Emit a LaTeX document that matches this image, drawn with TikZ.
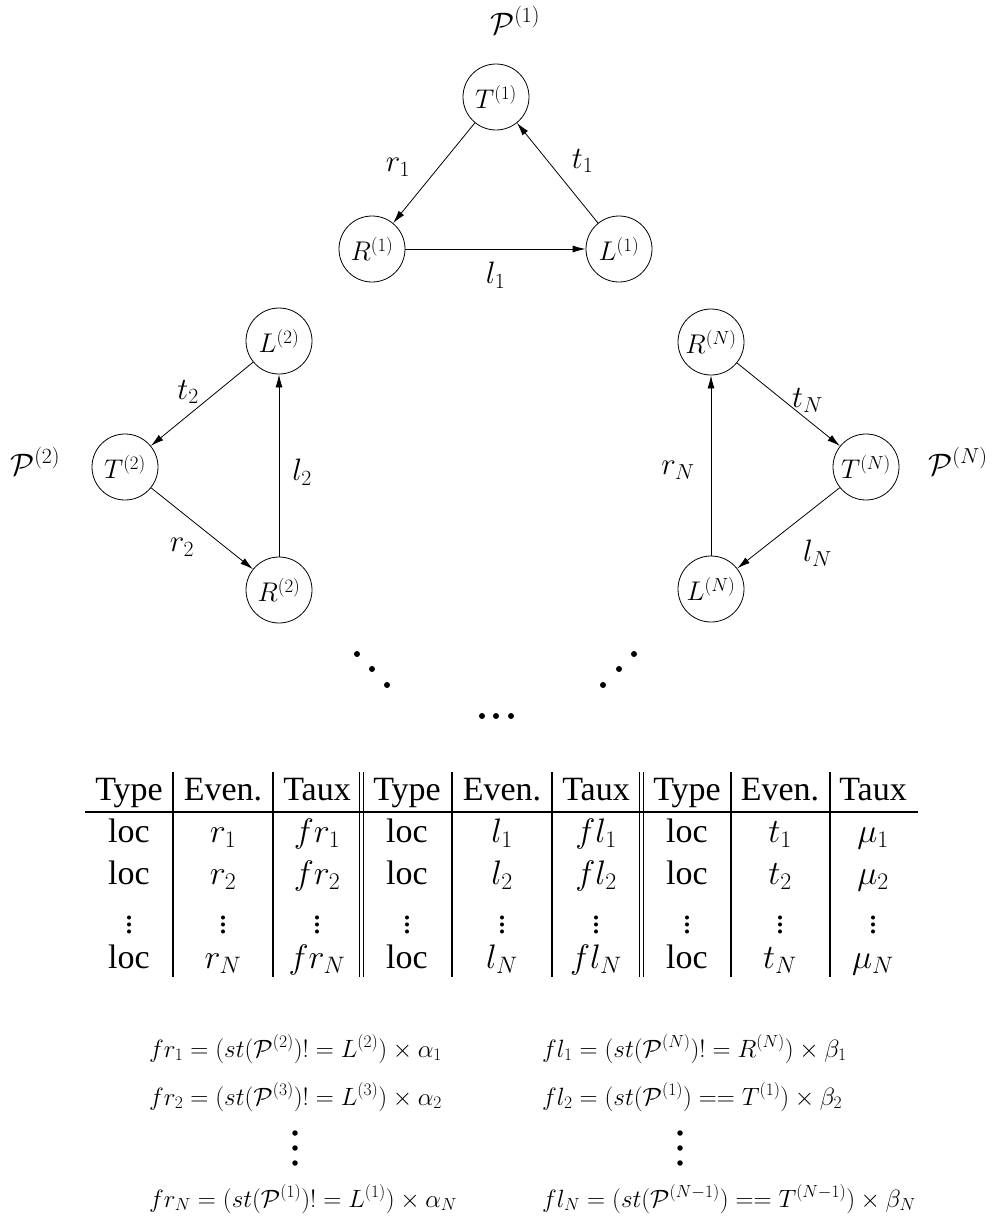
\RequirePackage{fix-cm}
\documentclass[tikz,border=0pt]{standalone}
\usepackage{fontspec}
\newfontfamily\timesf{Liberation Serif}
\usetikzlibrary{arrows.meta}
\newcommand\fsz[1]{\fontsize{#1}{#1}\selectfont}
\newcommand\tvdots{\vbox{\baselineskip=7pt\lineskiplimit=0pt\hbox{.}\hbox{.}\hbox{.}}}
\begin{document}
\begin{tikzpicture}[x=1pt,y=-1pt,
  st/.style={draw, circle, minimum size=66pt, inner sep=0pt, line width=0.8pt, font=\fsz{27}},
  arr/.style={-{Latex[length=13pt,width=7pt]}, line width=0.8pt},
  lbl/.style={font=\fsz{31}, inner sep=0pt},
  plbl/.style={font=\fsz{31}, inner sep=0pt, anchor=base west},
  tb/.style={font=\timesf\fsz{34}, inner sep=0pt, anchor=base},
  eq/.style={font=\fsz{25}, inner sep=0pt, anchor=base west},
  trule/.style={line width=1.6pt},
  bigdot/.style={fill=black, draw=none, circle, minimum size=6pt, inner sep=0pt},
  smdot/.style={fill=black, draw=none, circle, minimum size=5.5pt, inner sep=0pt}]
\useasboundingbox (0,0) rectangle (997,1218);

% ---- process 1 (top)
\node[plbl] (P1) at (490,34) {$\mathcal{P}^{(1)}$};
\node[st] (T1) at (496,97) {$T^{(1)}$};
\node[st] (R1) at (372,249) {$R^{(1)}$};
\node[st] (L1) at (619,249) {$L^{(1)}$};
\draw[arr] (T1) -- node[lbl, xshift=-36pt, yshift=6pt] {$r_1$} (R1);
\draw[arr] (R1) -- node[lbl, yshift=-26pt] {$l_1$} (L1);
\draw[arr] (L1) -- node[lbl, xshift=25pt, yshift=12pt] {$t_1$} (T1);

% ---- process 2 (left)
\node[plbl] (P2) at (10,475) {$\mathcal{P}^{(2)}$};
\node[st] (L2) at (279,341) {$L^{(2)}$};
\node[st] (T2) at (125,467) {$T^{(2)}$};
\node[st] (R2) at (279,590) {$R^{(2)}$};
\draw[arr] (L2) -- node[lbl, xshift=-14pt, yshift=12pt] {$t_2$} (T2);
\draw[arr] (T2) -- node[lbl, xshift=-20pt, yshift=-19pt] {$r_2$} (R2);
\draw[arr] (R2) -- node[lbl, xshift=23pt, yshift=-7pt] {$l_2$} (L2);

% ---- process N (right)
\node[plbl] (PN) at (928,475) {$\mathcal{P}^{(N)}$};
\node[st] (RN) at (711,342) {$R^{(N)}$};
\node[st] (TN) at (866,467) {$T^{(N)}$};
\node[st] (LN) at (711,589) {$L^{(N)}$};
\draw[arr] (RN) -- node[lbl, xshift=19pt, yshift=4pt] {$t_N$} (TN);
\draw[arr] (TN) -- node[lbl, xshift=29pt, yshift=-25pt] {$l_N$} (LN);
\draw[arr] (LN) -- node[lbl, xshift=-33pt, yshift=-5pt] {$r_N$} (RN);

% ---- dots between processes
\foreach \px/\py [count=\i] in {357/654,372/669,387/685,603/685,619/669,634/654,482/716,496/716,511/716}
  \node[bigdot] (d\i) at (\px,\py) {};

% ---- table
\draw[trule] (85,812) -- (918,812);
\foreach \vx [count=\i] in {173,273,359.5,363.5,452,552,639.5,643.5,731,830}
  \draw[trule] (\vx,772) -- (\vx,977);
\foreach \cx/\t [count=\i] in {129/Type,223/Even.,317/Taux,407/Type,502/Even.,596/Taux,687/Type,780/Even.,873/Taux}
  \node[tb] (h\i) at (\cx,800) {\t};
\foreach \rw/\ry in {1/842,2/884,N/968} {
  \node[tb] (ca\rw) at (129,\ry) {loc};
  \node[tb] (cb\rw) at (223,\ry) {$r_{\rw}$};
  \node[tb] (cc\rw) at (317,\ry) {$fr_{\rw}$};
  \node[tb] (cd\rw) at (407,\ry) {loc};
  \node[tb] (ce\rw) at (502,\ry) {$l_{\rw}$};
  \node[tb] (cf\rw) at (596,\ry) {$fl_{\rw}$};
  \node[tb] (cg\rw) at (687,\ry) {loc};
  \node[tb] (ch\rw) at (780,\ry) {$t_{\rw}$};
  \node[tb] (ci\rw) at (873,\ry) {$\mu_{\rw}$};
}
\foreach \cx [count=\i] in {129,223,317,407,502,596,687,780,873}
  \node[tb] (v\i) at (\cx,933.5) {\tvdots};

% ---- equations
\node[eq] (e1) at (149,1057) {$fr_1 = (st(\mathcal{P}^{(2)})! = L^{(2)}) \times \alpha_1$};
\node[eq] (e2) at (149,1105) {$fr_2 = (st(\mathcal{P}^{(3)})! = L^{(3)}) \times \alpha_2$};
\node[eq] (eN) at (149,1207) {$fr_N = (st(\mathcal{P}^{(1)})! = L^{(1)}) \times \alpha_N$};
\node[eq] (f1) at (542,1057) {$fl_1 = (st(\mathcal{P}^{(N)})! = R^{(N)}) \times \beta_1$};
\node[eq] (f2) at (542,1105) {$fl_2 = (st(\mathcal{P}^{(1)}) == T^{(1)}) \times \beta_2$};
\node[eq] (fN) at (542,1207) {$fl_N = (st(\mathcal{P}^{(N-1)}) == T^{(N-1)}) \times \beta_N$};
\foreach \py [count=\i] in {1133,1148,1163} {
  \node[smdot] (ld\i) at (295,\py) {};
  \node[smdot] (rd\i) at (680,\py) {};
}
\end{tikzpicture}
\end{document}
